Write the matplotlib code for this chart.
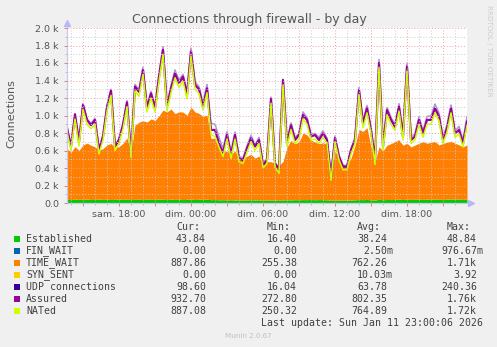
import matplotlib
matplotlib.use("Agg")
import matplotlib.pyplot as plt
import numpy as np
from matplotlib.patches import Rectangle

W, H = 497, 347

# samples every 20 min, from sat 13:40 to sun 23:00 (hours counted from sat 00:00)
start_hour = 13 + 40 / 60
step_hour = 1 / 3

established = [42, 40, 44, 41, 43, 45, 40, 42, 44, 41, 43, 40, 42, 45, 41, 44, 39, 42, 43, 40,
               44, 41, 43, 46, 42, 40, 44, 41, 43, 39, 42, 45, 40, 43, 41, 44, 38, 40, 36, 38,
               35, 37, 34, 36, 33, 35, 37, 34, 36, 32, 34, 31, 33, 30, 35, 37, 36, 38, 37, 39,
               38, 40, 37, 39, 38, 36, 30, 35, 33, 31, 32, 34, 36, 40, 38, 41, 36, 33, 42, 37,
               40, 39, 41, 43, 40, 44, 41, 42, 43, 41, 44, 42, 45, 43, 41, 44, 46, 43, 45, 42, 44]
time_wait = [580, 540, 600, 560, 620, 640, 620, 600, 560, 580, 620, 640, 590, 600, 640, 700, 540,
             850, 880, 900, 880, 920, 900, 950, 1020, 1000, 1030, 980, 1000, 1000, 960, 1050, 1000,
             980, 950, 960,
             700, 700, 600, 540, 560, 520, 560, 480, 470, 500, 520, 480, 500, 430, 440,
             440, 420, 400, 440, 600, 680, 640, 660, 760, 740, 680, 660, 640, 650, 640, 280, 560,
             480, 400, 400, 480, 620, 800, 780, 820,
             600, 440, 600, 560, 620, 640, 660, 680, 620, 640, 600, 620, 640, 660, 640, 650, 660,
             620, 640, 650, 660, 640, 620, 600, 620]
udp = [70, 55, 60, 50, 65, 60, 55, 70, 50, 60, 65, 70, 55, 60, 65, 70, 50, 75, 70, 80,
       65, 75, 70, 80, 85, 70, 80, 90, 85, 80, 75, 90, 85, 80, 90, 95, 130, 140, 110, 90,
       85, 70, 80, 65, 60, 70, 75, 65, 70, 55, 60, 70, 55, 50, 65, 60, 75, 70, 65, 80,
       75, 70, 65, 70, 75, 60, 45, 65, 55, 50, 50, 60, 70, 80, 75, 85, 70, 55, 90, 65,
       80, 75, 70, 85, 65, 90, 70, 75, 85, 70, 90, 95, 100, 85, 75, 80, 90, 75, 85, 80, 99]
assured = [853, 644, 1013, 700, 1120, 950, 890, 950, 605, 760,
           1093, 1284, 644, 720, 890, 1150, 560, 1330, 1270, 1520,
           1082, 1253, 1082, 1444, 1750, 1100, 1310, 1480, 1370, 1444,
           1234, 1730, 1350, 1300, 1100, 1310, 835, 835, 680, 570,
           777, 550, 777, 510, 490, 625, 740, 645, 720, 435,
           490, 1190, 453, 377, 1405, 680, 890, 720, 777, 1005,
           950, 760, 777, 720, 796, 720, 300, 740, 530, 415,
           415, 605, 720, 1290, 910, 1082, 835, 490, 1600, 645,
           1063, 950, 870, 1100, 760, 1560, 720, 760, 950, 796,
           950, 950, 1082, 987, 720, 853, 1082, 796, 835, 680, 930]
nated = [810, 600, 960, 650, 1070, 900, 850, 900, 560, 720,
         1050, 1230, 600, 680, 850, 1100, 520, 1280, 1220, 1470,
         1040, 1200, 1040, 1390, 1700, 1050, 1260, 1430, 1320, 1390,
         1190, 1680, 1300, 1250, 1060, 1260, 780, 760, 640, 530,
         730, 510, 730, 470, 450, 580, 700, 600, 680, 400,
         450, 1140, 410, 340, 1350, 640, 840, 680, 730, 960,
         900, 720, 730, 680, 750, 680, 260, 700, 490, 380,
         380, 560, 680, 1240, 860, 1030, 790, 440, 1550, 600,
         1010, 900, 830, 1050, 720, 1510, 680, 720, 900, 750,
         900, 900, 1030, 940, 680, 810, 1030, 750, 790, 640, 887]

tick_hours = [18, 24, 30, 36, 42]
tick_labels = ["sam. 18:00", "dim. 00:00", "dim. 06:00", "dim. 12:00", "dim. 18:00"]

legend_names = ["Established", "FIN_WAIT", "TIME_WAIT", "SYN_SENT",
                "UDP connections", "Assured", "NATed"]
legend_colors = ["#00cc00", "#0066b3", "#ff8000", "#ffcc00", "#330099", "#990099", "#ccff00"]
cur_vals = ["43.84", "0.00", "887.86", "0.00", "98.60", "932.70", "887.08"]
min_vals = ["16.40", "0.00", "255.38", "0.00", "16.04", "272.80", "250.32"]
avg_vals = ["38.24", "2.50m", "762.26", "10.03m", "63.78", "802.35", "764.89"]
max_vals = ["48.84", "976.67m", "1.71k", "3.92", "240.36", "1.76k", "1.72k"]


def fx(px):
    return px / W


def fy(py):
    return 1 - py / H


fig = plt.figure(figsize=(W / 100, H / 100), dpi=100, facecolor="#f0f0f0")
ax = fig.add_axes([fx(67), fy(203), 400 / W, 175 / H])
ax.set_facecolor("white")

hours = start_hour + step_hour * np.arange(len(time_wait))
est = np.array(established)
tw = np.array(time_wait)

ax.fill_between(hours, 0, est, color="#00cc00", lw=0)
ax.fill_between(hours, est, est + tw, color="#ff8000", lw=0)
ax.plot(hours, np.array(nated) + np.array(udp), color="#330099", lw=1.2, alpha=0.4)
ax.plot(hours, assured, color="#990099", lw=1.6)
ax.plot(hours, nated, color="#ccff00", lw=1.1)

ax.set_xlim(hours[0], hours[-1])
ax.set_ylim(0, 2000)

major_x = np.arange(15, 47, 3)
ax.set_xticks(major_x)
ax.set_xticklabels([tick_labels[tick_hours.index(h)] if h in tick_hours else "" for h in major_x])
ax.set_xticks(np.arange(14, 47, 1), minor=True)
ax.set_yticks(np.arange(0, 2001, 200))
ax.set_yticklabels(["0.0"] + ["%.1f k" % (v / 1000) for v in np.arange(200, 2001, 200)])
ax.set_yticks(np.arange(100, 2000, 200), minor=True)

ax.tick_params(which="major", length=2.2, width=0.7, color="#e08080",
               labelsize=6.8, labelcolor="#555555")
ax.tick_params(which="minor", length=1.5, width=0.7, color="#c0c0c0")
ax.tick_params(axis="x", which="major", pad=3)
ax.tick_params(axis="y", which="major", pad=3.6)

ax.set_axisbelow(False)
ax.grid(which="major", color="#f0a0a0", lw=0.7, ls=(0, (1, 2)))
ax.grid(which="minor", color="#cccccc", lw=0.7, ls=(0, (1, 2)))

for s in ax.spines.values():
    s.set_visible(False)
ax.plot([0, 0], [0, 1.03], color="#c8c8f0", lw=0.9, transform=ax.transAxes, clip_on=False)
ax.plot([0, 1.01], [0, 0], color="#c8c8f0", lw=0.9, transform=ax.transAxes, clip_on=False)
ax.plot([0], [1.03], marker="^", ms=4, color="#b8b8f8", transform=ax.transAxes, clip_on=False)
ax.plot([1.01], [0], marker=">", ms=4, color="#b8b8f8", transform=ax.transAxes, clip_on=False)

fig.text(fx(249), fy(19), "Connections through firewall - by day", ha="center", va="center",
         fontsize=9, color="#555555")
fig.text(fx(11), fy(114), "Connections", rotation=90, ha="center", va="center",
         fontsize=8, color="#555555")
fig.text(fx(489), fy(5), "RRDTOOL / TOBI OETIKER", rotation=270, ha="center", va="top",
         fontsize=5.1, color="#cccccc")

# legend block
mono = dict(family="DejaVu Sans Mono", fontsize=7.1, color="#404040", va="center")
cw = 6.0
cols = [206, 297, 387, 477]
for x, head in zip(cols, ["Cur:", "Min:", "Avg:", "Max:"]):
    fig.text(fx(x - cw), fy(227), head, ha="right", **mono)

for i, name in enumerate(legend_names):
    y = 239 + 12 * i
    fig.patches.append(Rectangle((fx(14), fy(y + 3)), 6 / W, 6 / H, transform=fig.transFigure,
                                 facecolor=legend_colors[i], edgecolor="none"))
    fig.text(fx(26), fy(y), name, ha="left", **mono)
    for x, val in zip(cols, [cur_vals[i], min_vals[i], avg_vals[i], max_vals[i]]):
        shift = cw if val.endswith("m") else 0
        fig.text(fx(x + shift), fy(y), val, ha="right", **mono)

fig.text(fx(483), fy(323), "Last update: Sun Jan 11 23:00:06 2026", ha="right", **mono)
fig.text(fx(248), fy(336), "Munin 2.0.67", ha="center", va="center", fontsize=5.1, color="#c0c0c0")

fig.savefig("out.png", dpi=100, facecolor=fig.get_facecolor())
